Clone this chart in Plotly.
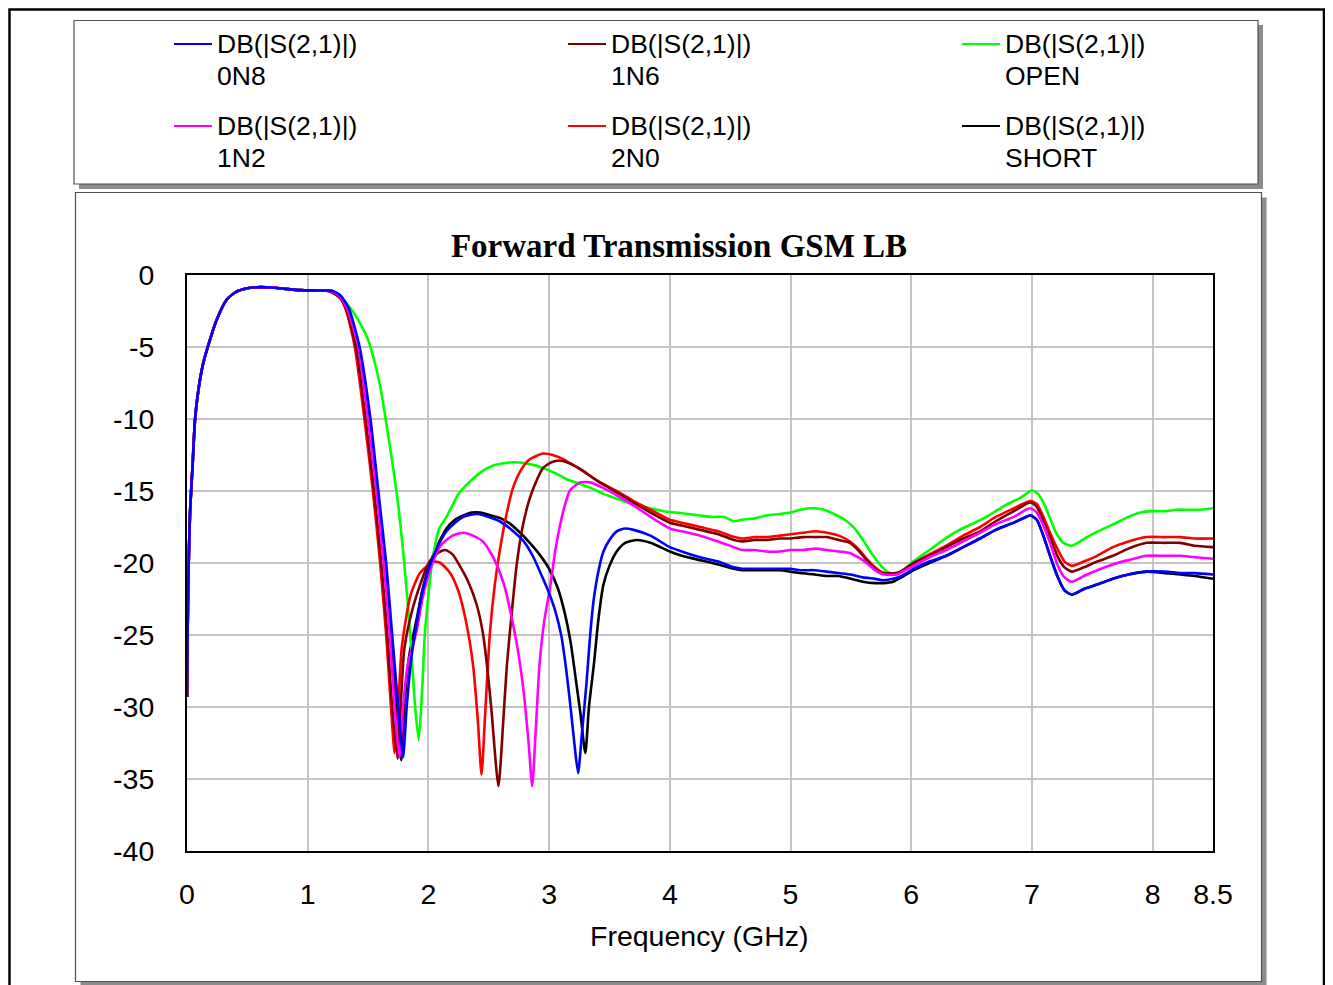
import plotly.graph_objects as go

# ---------------- data ----------------
PASS_F = [0.0, 0.005, 0.011, 0.025, 0.047, 0.066, 0.094, 0.135, 0.19, 0.246, 0.33, 0.41, 0.5, 0.58, 0.7, 0.8, 0.94, 1.05, 1.15]
PASS_DB = [-29.3, -25.0, -21.2, -16.5, -13.1, -10.1, -8.0, -6.1, -4.5, -3.1, -1.7, -1.16, -0.92, -0.85, -0.87, -0.95, -1.05, -1.07, -1.08]

F_0N8 = [1.2, 1.27, 1.34, 1.43, 1.52, 1.585, 1.65, 1.70, 1.75, 1.79, 1.82, 1.86, 1.90, 1.95, 2.01, 2.08, 2.15, 2.22, 2.29, 2.35, 2.41, 2.5, 2.59, 2.69, 2.79, 2.87, 2.95, 3.0, 3.05, 3.1, 3.14, 3.18, 3.21, 3.24, 3.27, 3.31, 3.34, 3.37, 3.41, 3.45, 3.5, 3.56, 3.63, 3.7, 3.84, 4.0, 4.1, 4.25, 4.4, 4.53, 4.6, 4.7, 4.8, 4.91, 5.0, 5.08, 5.2, 5.3, 5.4, 5.5, 5.6, 5.7, 5.77, 5.85, 5.92, 6.02, 6.15, 6.29, 6.43, 6.57, 6.7, 6.85, 6.95, 6.99, 7.04, 7.09, 7.15, 7.21, 7.27, 7.33, 7.43, 7.54, 7.67, 7.8, 7.95, 8.1, 8.23, 8.35, 8.5]
DB_0N8 = [-1.1, -1.4, -2.3, -5.0, -10.0, -15.0, -20.0, -25.0, -30.0, -33.5, -30.0, -26.5, -24.3, -22.0, -20.2, -18.8, -17.8, -17.2, -16.8, -16.65, -16.6, -16.8, -17.1, -17.7, -18.5, -19.6, -21.1, -22.1, -23.3, -25.0, -27.3, -30.2, -32.6, -34.6, -32.0, -28.3, -25.0, -22.5, -20.5, -19.2, -18.4, -17.8, -17.6, -17.7, -18.1, -18.9, -19.2, -19.6, -19.9, -20.3, -20.4, -20.4, -20.4, -20.4, -20.4, -20.5, -20.5, -20.6, -20.7, -20.8, -21.0, -21.1, -21.2, -21.1, -20.9, -20.4, -19.9, -19.5, -18.9, -18.3, -17.7, -17.2, -16.8, -16.7, -17.0, -18.0, -19.5, -20.9, -21.9, -22.2, -21.8, -21.5, -21.1, -20.8, -20.6, -20.6, -20.7, -20.7, -20.8]

F_1N6 = [1.2, 1.27, 1.32, 1.40, 1.48, 1.55, 1.61, 1.66, 1.70, 1.745, 1.77, 1.80, 1.85, 1.90, 2.01, 2.08, 2.14, 2.2, 2.26, 2.33, 2.40, 2.45, 2.48, 2.52, 2.58, 2.62, 2.65, 2.69, 2.73, 2.78, 2.84, 2.9, 2.95, 3.02, 3.10, 3.2, 3.28, 3.4, 3.56, 3.7, 3.84, 4.0, 4.1, 4.25, 4.4, 4.53, 4.6, 4.7, 4.8, 4.91, 5.0, 5.1, 5.21, 5.3, 5.4, 5.49, 5.56, 5.63, 5.7, 5.77, 5.88, 5.95, 6.02, 6.15, 6.29, 6.43, 6.57, 6.7, 6.85, 6.95, 6.99, 7.04, 7.09, 7.15, 7.21, 7.27, 7.33, 7.43, 7.54, 7.67, 7.8, 7.95, 8.1, 8.23, 8.35, 8.5]
DB_1N6 = [-1.2, -1.6, -2.4, -5.0, -10.0, -15.0, -20.0, -25.0, -30.0, -33.6, -30.0, -26.0, -23.8, -22.3, -19.9, -19.3, -19.1, -19.4, -20.2, -21.3, -22.9, -24.8, -26.7, -30.0, -35.5, -31.0, -27.1, -23.5, -20.2, -17.5, -15.5, -14.2, -13.4, -13.0, -12.9, -13.2, -13.6, -14.3, -15.1, -15.8, -16.5, -17.2, -17.4, -17.7, -18.0, -18.4, -18.5, -18.4, -18.4, -18.3, -18.3, -18.2, -18.2, -18.2, -18.4, -18.6, -19.1, -19.8, -20.4, -20.7, -20.7, -20.4, -20.0, -19.5, -18.9, -18.3, -17.8, -17.1, -16.4, -15.9, -15.8, -16.1, -17.0, -18.2, -19.5, -20.3, -20.6, -20.3, -19.9, -19.5, -19.0, -18.6, -18.6, -18.6, -18.8, -18.9]

F_OPEN = [1.22, 1.3, 1.38, 1.45, 1.50, 1.55, 1.60, 1.64, 1.69, 1.74, 1.77, 1.80, 1.85, 1.89, 1.92, 1.95, 1.97, 2.03, 2.09, 2.15, 2.25, 2.35, 2.45, 2.55, 2.7, 2.82, 2.95, 3.06, 3.15, 3.25, 3.35, 3.45, 3.55, 3.65, 3.75, 3.84, 3.95, 4.05, 4.15, 4.25, 4.35, 4.45, 4.53, 4.6, 4.7, 4.8, 4.91, 5.0, 5.08, 5.19, 5.28, 5.36, 5.45, 5.53, 5.6, 5.67, 5.74, 5.8, 5.87, 5.93, 6.0, 6.1, 6.2, 6.3, 6.4, 6.5, 6.6, 6.7, 6.8, 6.9, 6.97, 7.0, 7.05, 7.1, 7.15, 7.2, 7.26, 7.33, 7.4, 7.5, 7.6, 7.7, 7.8, 7.9, 8.0, 8.1, 8.2, 8.3, 8.4, 8.5]
DB_OPEN = [-1.3, -1.8, -2.6, -3.6, -4.5, -5.9, -7.7, -9.7, -12.4, -15.3, -17.5, -20.0, -25.0, -30.0, -32.3, -28.5, -25.0, -20.0, -17.6, -16.8, -15.2, -14.3, -13.6, -13.2, -13.0, -13.1, -13.4, -13.8, -14.2, -14.5, -14.8, -15.2, -15.5, -15.8, -16.0, -16.2, -16.4, -16.5, -16.6, -16.7, -16.8, -16.8, -17.1, -17.0, -16.9, -16.7, -16.6, -16.5, -16.3, -16.2, -16.3, -16.6, -17.0, -17.6, -18.4, -19.3, -20.1, -20.6, -20.8, -20.5, -20.0, -19.4, -18.8, -18.2, -17.7, -17.3, -16.9, -16.4, -15.9, -15.5, -15.1, -14.95, -15.2, -15.9, -16.9, -17.9, -18.6, -18.8, -18.5, -18.0, -17.6, -17.2, -16.8, -16.5, -16.4, -16.4, -16.3, -16.3, -16.3, -16.2]

F_1N2 = [1.2, 1.27, 1.33, 1.42, 1.50, 1.57, 1.63, 1.68, 1.72, 1.76, 1.79, 1.83, 1.90, 1.95, 2.01, 2.10, 2.2, 2.29, 2.37, 2.45, 2.51, 2.57, 2.63, 2.68, 2.74, 2.79, 2.83, 2.86, 2.89, 2.92, 2.96, 3.01, 3.05, 3.09, 3.13, 3.17, 3.22, 3.26, 3.34, 3.45, 3.56, 3.7, 3.84, 4.0, 4.1, 4.25, 4.4, 4.53, 4.6, 4.7, 4.8, 4.91, 5.0, 5.1, 5.21, 5.3, 5.4, 5.49, 5.56, 5.63, 5.7, 5.77, 5.88, 5.95, 6.02, 6.15, 6.29, 6.43, 6.57, 6.7, 6.85, 6.95, 6.99, 7.04, 7.09, 7.15, 7.21, 7.27, 7.33, 7.43, 7.54, 7.67, 7.8, 7.95, 8.1, 8.23, 8.35, 8.5]
DB_1N2 = [-1.15, -1.5, -2.4, -5.0, -10.0, -15.0, -20.0, -25.0, -30.0, -33.5, -30.0, -27.0, -24.8, -22.5, -20.6, -18.8, -18.1, -17.9, -18.1, -18.5, -19.2, -20.2, -21.6, -23.4, -26.0, -29.0, -32.5, -35.5, -31.5, -27.1, -24.0, -21.6, -19.2, -17.4, -16.0, -15.0, -14.6, -14.4, -14.4, -14.8, -15.3, -16.0, -16.8, -17.6, -17.8, -18.1, -18.5, -18.9, -19.1, -19.1, -19.2, -19.2, -19.1, -19.1, -19.0, -19.1, -19.2, -19.3, -19.6, -20.0, -20.5, -20.8, -20.8, -20.5, -20.2, -19.6, -19.1, -18.5, -17.9, -17.3, -16.8, -16.3, -16.2, -16.5, -17.3, -18.6, -20.1, -21.0, -21.3, -20.9, -20.5, -20.1, -19.8, -19.5, -19.5, -19.5, -19.6, -19.7]

F_2N0 = [1.2, 1.27, 1.32, 1.39, 1.47, 1.54, 1.60, 1.65, 1.69, 1.72, 1.75, 1.78, 1.85, 1.93, 2.04, 2.10, 2.18, 2.25, 2.31, 2.37, 2.41, 2.44, 2.47, 2.51, 2.55, 2.59, 2.65, 2.70, 2.77, 2.84, 2.95, 3.03, 3.12, 3.2, 3.28, 3.4, 3.56, 3.7, 3.84, 4.0, 4.1, 4.25, 4.4, 4.5, 4.6, 4.7, 4.8, 4.91, 5.0, 5.1, 5.21, 5.3, 5.4, 5.49, 5.56, 5.63, 5.7, 5.77, 5.88, 5.95, 6.02, 6.15, 6.29, 6.43, 6.57, 6.7, 6.85, 6.95, 6.99, 7.04, 7.09, 7.15, 7.21, 7.27, 7.33, 7.43, 7.54, 7.67, 7.8, 7.95, 8.1, 8.23, 8.35, 8.5]
DB_2N0 = [-1.2, -1.6, -2.5, -5.0, -10.0, -15.0, -20.0, -25.0, -30.0, -33.2, -30.0, -25.8, -22.3, -20.7, -19.9, -20.0, -20.7, -22.0, -24.0, -27.1, -31.0, -34.7, -30.5, -24.8, -21.5, -19.2, -16.5, -14.8, -13.5, -12.8, -12.4, -12.5, -12.8, -13.2, -13.6, -14.3, -15.0, -15.7, -16.3, -17.0, -17.2, -17.5, -17.8, -18.1, -18.3, -18.2, -18.2, -18.1, -18.0, -17.9, -17.8, -17.9, -18.1, -18.5, -19.0, -19.7, -20.3, -20.7, -20.7, -20.4, -20.0, -19.4, -18.8, -18.1, -17.5, -16.8, -16.2, -15.8, -15.7, -15.9, -16.7, -17.9, -19.0, -19.9, -20.2, -19.9, -19.5, -18.9, -18.5, -18.2, -18.2, -18.2, -18.3, -18.3]

F_SHORT = [1.2, 1.27, 1.335, 1.42, 1.505, 1.575, 1.64, 1.69, 1.735, 1.775, 1.80, 1.84, 1.90, 1.95, 2.01, 2.08, 2.15, 2.22, 2.29, 2.36, 2.43, 2.52, 2.6, 2.68, 2.76, 2.84, 2.92, 3.0, 3.07, 3.13, 3.18, 3.22, 3.26, 3.30, 3.33, 3.37, 3.41, 3.45, 3.5, 3.56, 3.63, 3.73, 3.84, 4.0, 4.1, 4.25, 4.4, 4.53, 4.6, 4.7, 4.8, 4.91, 5.0, 5.08, 5.2, 5.3, 5.4, 5.5, 5.6, 5.7, 5.77, 5.85, 5.92, 6.02, 6.15, 6.29, 6.43, 6.57, 6.7, 6.85, 6.95, 6.99, 7.04, 7.09, 7.15, 7.21, 7.27, 7.33, 7.43, 7.54, 7.67, 7.8, 7.95, 8.1, 8.23, 8.35, 8.5]
DB_SHORT = [-1.1, -1.45, -2.35, -5.0, -10.0, -15.0, -20.0, -25.0, -30.0, -33.7, -30.0, -26.5, -24.0, -21.9, -20.1, -18.7, -17.6, -17.0, -16.7, -16.5, -16.5, -16.7, -16.9, -17.3, -17.9, -18.6, -19.4, -20.4, -21.7, -23.5, -25.6, -28.0, -30.5, -33.2, -30.0, -27.1, -23.8, -21.5, -20.2, -19.2, -18.6, -18.4, -18.6, -19.2, -19.5, -19.8, -20.1, -20.4, -20.5, -20.5, -20.5, -20.5, -20.6, -20.7, -20.8, -20.9, -20.9, -21.1, -21.3, -21.4, -21.4, -21.3, -21.0, -20.5, -20.0, -19.5, -18.9, -18.3, -17.7, -17.2, -16.8, -16.7, -17.0, -18.0, -19.5, -20.9, -21.9, -22.2, -21.8, -21.5, -21.1, -20.8, -20.6, -20.7, -20.8, -20.9, -21.1]

LEGEND_TOP = "DB(|S(2,1)|)"
SERIES = [  # (label, freq, dB, colour, legend column, legend row)
    ("SHORT", F_SHORT, DB_SHORT, "#000000", 2, 1),
    ("OPEN", F_OPEN, DB_OPEN, "#00ff00", 2, 0),
    ("2N0", F_2N0, DB_2N0, "#ff0000", 1, 1),
    ("1N6", F_1N6, DB_1N6, "#800000", 1, 0),
    ("1N2", F_1N2, DB_1N2, "#ff00ff", 0, 1),
    ("0N8", F_0N8, DB_0N8, "#0000ff", 0, 0),
]
X_TICKS = [0, 1, 2, 3, 4, 5, 6, 7, 8, 8.5]
X_TICKTEXT = ["0", "1", "2", "3", "4", "5", "6", "7", "8", "8.5"]
Y_TICKS = [0, -5, -10, -15, -20, -25, -30, -35, -40]
Y_TICKTEXT = ["0", "-5", "-10", "-15", "-20", "-25", "-30", "-35", "-40"]

# ---------------- layout geometry (pixels of the target picture) ----------------
OFF = 8                      # page body margin of the browser
W, H = 1333 - OFF, 985 - OFF
L, R, T, B = 187, 1213, 275, 851   # plot area in target pixels


def px(x):
    return (x - L) / (R - L)


def py(y):
    return (B - y) / (B - T)


fig = go.Figure()
for name, f, db, col, c, r in SERIES:
    fig.add_trace(go.Scatter(
        x=PASS_F + f, y=PASS_DB + db, mode="lines", name=name,
        line=dict(color=col, width=2.6, shape="spline", smoothing=0.6),
        showlegend=False, hoverinfo="x+y+name"))

shapes = []
# outer frame
shapes.append(dict(type="rect", xref="paper", yref="paper", x0=px(9.5), x1=px(1324), y0=py(1010), y1=py(9.5),
                   line=dict(color="#000000", width=2.5), fillcolor="rgba(0,0,0,0)", layer="below"))
# legend box with shadow
shapes.append(dict(type="rect", xref="paper", yref="paper", x0=px(79), x1=px(1263), y0=py(189), y1=py(25),
                   line=dict(width=0), fillcolor="#8c8c8c", layer="below"))
shapes.append(dict(type="rect", xref="paper", yref="paper", x0=px(74), x1=px(1258), y0=py(184), y1=py(20.5),
                   line=dict(color="#505050", width=1.2), fillcolor="#ffffff", layer="below"))
# plot box with shadow
shapes.append(dict(type="rect", xref="paper", yref="paper", x0=px(80.5), x1=px(1266.5), y0=py(986), y1=py(197.5),
                   line=dict(width=0), fillcolor="#8c8c8c", layer="below"))
shapes.append(dict(type="rect", xref="paper", yref="paper", x0=px(75.5), x1=px(1261.5), y0=py(981.5), y1=py(192.5),
                   line=dict(color="#505050", width=1.2), fillcolor="#ffffff", layer="below"))

annotations = []
col_x = [174, 568, 962]
row_y = [44, 126]
for name, f, db, col, c, r in SERIES:
    x0 = col_x[c]
    y0 = row_y[r]
    shapes.append(dict(type="line", xref="paper", yref="paper", x0=px(x0), x1=px(x0 + 38), y0=py(y0), y1=py(y0),
                       line=dict(color=col, width=2)))
    annotations.append(dict(xref="paper", yref="paper", x=px(x0 + 41), y=py(y0), text=LEGEND_TOP,
                            xanchor="left", yanchor="middle", showarrow=False,
                            font=dict(family="Liberation Sans, Arial", size=26.5, color="#000000")))
    annotations.append(dict(xref="paper", yref="paper", x=px(x0 + 41), y=py(y0 + 32), text=name,
                            xanchor="left", yanchor="middle", showarrow=False,
                            font=dict(family="Liberation Sans, Arial", size=26.5, color="#000000")))

# axis title
annotations.append(dict(xref="paper", yref="paper", x=px(699), y=py(936), text="Frequency (GHz)",
                        xanchor="center", yanchor="middle", showarrow=False,
                        font=dict(family="Liberation Sans, Arial", size=28.5, color="#000000")))

fig.update_layout(
    width=W, height=H,
    margin=dict(l=L - OFF, r=W - (R - OFF), t=T - OFF, b=H - (B - OFF), pad=0),
    paper_bgcolor="#ffffff", plot_bgcolor="rgba(0,0,0,0)",
    title=dict(text="<b>Forward Transmission GSM LB</b>", x=(679 - OFF) / W, y=1 - (245 - OFF) / H,
               xanchor="center", yanchor="middle", xref="container", yref="container",
               font=dict(family="Liberation Serif, Times New Roman", size=33, color="#000000")),
    shapes=shapes, annotations=annotations,
    showlegend=False,
    xaxis=dict(range=[0, 8.5], tickvals=X_TICKS, ticktext=X_TICKTEXT, showgrid=True,
               gridcolor="#c4c4c4", gridwidth=1.5, zeroline=False, showline=True, mirror=True,
               linecolor="#000000", linewidth=2, ticks="", ticklabelstandoff=17,
               tickfont=dict(family="Liberation Sans, Arial", size=28.5, color="#000000")),
    yaxis=dict(range=[-40, 0], tickvals=Y_TICKS, ticktext=Y_TICKTEXT, showgrid=True,
               gridcolor="#c4c4c4", gridwidth=1.5, zeroline=False, showline=True, mirror=True,
               linecolor="#000000", linewidth=2, ticks="", ticklabelstandoff=25,
               tickfont=dict(family="Liberation Sans, Arial", size=28.5, color="#000000")),
)

fig.write_html("out.html")
